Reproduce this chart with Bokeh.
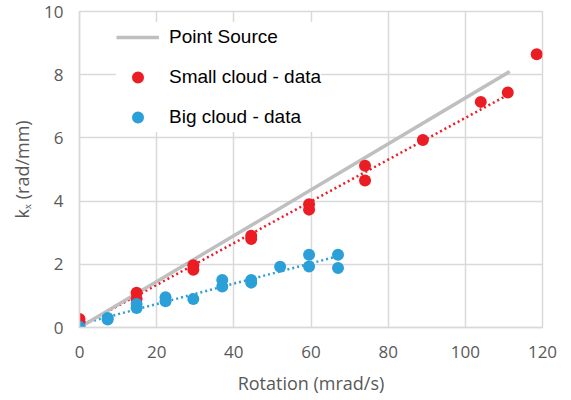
import numpy as np
from bokeh.plotting import figure
from bokeh.models import Range1d, FixedTicker, Legend, LegendItem
from bokeh.embed import file_html
from bokeh.resources import INLINE

# ---- data ----
point_x = [0, 111.5]
point_y = [0, 8.1]

small_x = [0, 0, 14.8, 14.8, 29.5, 29.5, 44.5, 44.5, 59.5, 59.5, 74, 74, 89, 104, 111, 118.5]
small_y = [0.27, 0.17, 1.1, 0.9, 1.97, 1.83, 2.9, 2.8, 3.9, 3.73, 5.12, 4.65, 5.93, 7.14, 7.44, 8.65]

big_x = [0, 0, 7.3, 7.3, 14.8, 14.8, 22.3, 22.3, 29.5, 37, 37, 44.5, 44.5, 52, 59.5, 59.5, 67, 67]
big_y = [0.02, 0, 0.3, 0.25, 0.62, 0.74, 0.96, 0.83, 0.9, 1.5, 1.3, 1.5, 1.42, 1.92, 2.3, 1.93, 2.3, 1.88]

x_ticks = [0, 20, 40, 60, 80, 100, 120]
y_ticks = [0, 2, 4, 6, 8, 10]

RED = "#EC1C24"
BLUE = "#2A9FD8"
GRAY = "#BFBFBF"
GRID = "#D9D9D9"
TXT = "#595959"

p = figure(width=571, height=400, output_backend="svg", toolbar_location=None,
           x_range=Range1d(0, 120), y_range=Range1d(0, 10),
           min_border_left=79, min_border_right=29, min_border_top=11, min_border_bottom=73)
p.outline_line_color = GRID
p.outline_line_width = 1.5

for ax in (p.xaxis[0], p.yaxis[0]):
    ax.axis_line_color = GRID
    ax.axis_line_width = 1.5
    ax.major_tick_line_color = None
    ax.minor_tick_line_color = None
    ax.major_tick_in = 0
    ax.major_tick_out = 0
    ax.major_label_text_font = "Open Sans"
    ax.major_label_text_font_size = "17px"
    ax.major_label_text_color = TXT
    ax.axis_label_text_font = "Open Sans"
    ax.axis_label_text_font_size = "18px"
    ax.axis_label_text_font_style = "normal"
    ax.axis_label_text_color = TXT

p.xaxis.ticker = FixedTicker(ticks=x_ticks)
p.yaxis.ticker = FixedTicker(ticks=y_ticks)
p.xaxis.axis_label = "Rotation (mrad/s)"
p.yaxis.axis_label = "kₓ (rad/mm)"
p.xaxis.major_label_standoff = 18
p.xaxis.axis_label_standoff = 10
p.yaxis.major_label_standoff = 16
p.yaxis.axis_label_standoff = 7

p.xgrid.ticker = FixedTicker(ticks=x_ticks)
p.ygrid.ticker = FixedTicker(ticks=y_ticks)
p.grid.grid_line_color = GRID
p.grid.grid_line_width = 1.5

# trendlines
sx = np.array(small_x); sy = np.array(small_y)
mask = sx <= 111
ms, bs = np.polyfit(sx[mask], sy[mask], 1)
sfx = np.array([0, sx[mask].max()])
bx = np.array(big_x); by = np.array(big_y)
mb, bb = np.polyfit(bx, by, 1)
bfx = np.array([0, bx.max()])

p.line(sfx, ms * sfx + bs, line_color=RED, line_width=2.5, line_dash="2 3")
p.line(bfx, mb * bfx + bb, line_color=BLUE, line_width=2.5, line_dash="2 3")

r_ps = p.line(point_x, point_y, line_color=GRAY, line_width=3.5)
r_sm = p.scatter(small_x, small_y, size=12, fill_color=RED, line_color=None)
r_bg = p.scatter(big_x, big_y, size=12, fill_color=BLUE, line_color=None)

legend = Legend(items=[LegendItem(label="Point Source", renderers=[r_ps]),
                       LegendItem(label="Small cloud - data", renderers=[r_sm]),
                       LegendItem(label="Big cloud - data", renderers=[r_bg])],
                location=(37, 195))
legend.label_text_font = "Liberation Sans"
legend.label_text_font_size = "19px"
legend.label_text_color = "#000000"
legend.glyph_width = 43
legend.glyph_height = 30
legend.label_height = 30
legend.label_standoff = 10
legend.spacing = 10
legend.padding = 6
legend.margin = 0
legend.border_line_color = None
legend.background_fill_color = "white"
legend.background_fill_alpha = 1.0
p.add_layout(legend, "center")

open("out.html", "w").write(file_html(p, INLINE))
